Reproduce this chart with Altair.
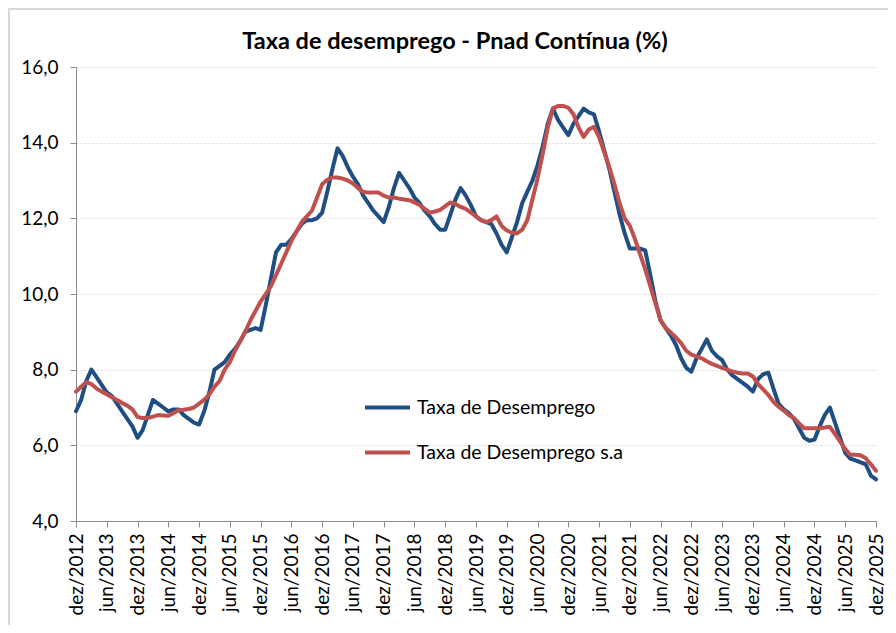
import json
import altair as alt
import pandas as pd

# Tick labels (every 6 months)
x_labels = ["dez/2012", "jun/2013", "dez/2013", "jun/2014", "dez/2014", "jun/2015",
            "dez/2015", "jun/2016", "dez/2016", "jun/2017", "dez/2017", "jun/2018",
            "dez/2018", "jun/2019", "dez/2019", "jun/2020", "dez/2020", "jun/2021",
            "dez/2021", "jun/2022", "dez/2022", "jun/2023", "dez/2023", "jun/2024",
            "dez/2024", "jun/2025", "dez/2025"]

series_names = ["Taxa de Desemprego", "Taxa de Desemprego s.a"]

# Monthly values, dez/2012 .. dez/2025
taxa = [6.9,
        7.2, 7.7, 8.0, 7.8, 7.6, 7.4, 7.3, 7.1, 6.9, 6.7, 6.5, 6.2,
        6.4, 6.8, 7.2, 7.1, 7.0, 6.9, 6.95, 6.95, 6.8, 6.7, 6.6, 6.55,
        6.9, 7.4, 8.0, 8.1, 8.2, 8.4, 8.55, 8.75, 9.0, 9.05, 9.1, 9.05,
        9.7, 10.4, 11.1, 11.3, 11.3, 11.45, 11.65, 11.85, 11.95, 11.95, 12.0, 12.15,
        12.7, 13.3, 13.85, 13.65, 13.35, 13.1, 12.9, 12.6, 12.4, 12.2, 12.05, 11.9,
        12.3, 12.8, 13.2, 13.0, 12.8, 12.55, 12.4, 12.2, 12.05, 11.85, 11.7, 11.7,
        12.1, 12.5, 12.8, 12.6, 12.35, 12.05, 11.95, 11.9, 11.85, 11.6, 11.3, 11.1,
        11.5, 11.9, 12.4, 12.7, 13.0, 13.4, 13.9, 14.5, 14.9, 14.6, 14.4, 14.2,
        14.5, 14.7, 14.9, 14.8, 14.75, 14.3, 13.8, 13.3, 12.7, 12.1, 11.6, 11.2,
        11.2, 11.2, 11.15, 10.5, 9.8, 9.3, 9.1, 8.9, 8.65, 8.3, 8.05, 7.95,
        8.3, 8.55, 8.8, 8.5, 8.35, 8.25, 8.0, 7.85, 7.75, 7.65, 7.55, 7.42,
        7.75, 7.88, 7.92, 7.5, 7.1, 6.95, 6.85, 6.7, 6.45, 6.2, 6.12, 6.15,
        6.5, 6.8, 7.0, 6.6, 6.2, 5.8, 5.65, 5.6, 5.55, 5.5, 5.2, 5.1]

taxa_sa = [7.42,
           7.55, 7.67, 7.62, 7.5, 7.42, 7.35, 7.27, 7.2, 7.12, 7.05, 6.95, 6.75,
           6.72, 6.72, 6.76, 6.8, 6.79, 6.78, 6.85, 6.93, 6.94, 6.96, 7.0, 7.1,
           7.2, 7.35, 7.55, 7.7, 8.0, 8.2, 8.5, 8.75, 9.0, 9.3, 9.55, 9.8,
           10.0, 10.2, 10.5, 10.8, 11.1, 11.4, 11.65, 11.9, 12.05, 12.2, 12.55, 12.9,
           13.02, 13.08, 13.08, 13.05, 13.0, 12.92, 12.8, 12.7, 12.68, 12.68, 12.68, 12.6,
           12.55, 12.55, 12.52, 12.5, 12.48, 12.42, 12.35, 12.25, 12.15, 12.18, 12.22, 12.32,
           12.42, 12.38, 12.3, 12.25, 12.15, 12.05, 11.95, 11.9, 11.95, 12.05, 11.8, 11.68,
           11.62, 11.6, 11.7, 11.95, 12.5, 13.05, 13.7, 14.4, 14.9, 14.97, 14.97, 14.92,
           14.75, 14.4, 14.15, 14.35, 14.42, 14.15, 13.75, 13.35, 12.9, 12.4, 12.0, 11.8,
           11.45, 11.05, 10.65, 10.2, 9.75, 9.3, 9.1, 8.98, 8.85, 8.7, 8.5, 8.4,
           8.35, 8.3, 8.22, 8.15, 8.1, 8.05, 8.0, 7.95, 7.92, 7.9, 7.9, 7.82,
           7.62, 7.48, 7.33, 7.15, 7.02, 6.92, 6.8, 6.72, 6.58, 6.45, 6.45, 6.45,
           6.45, 6.47, 6.49, 6.3, 6.1, 5.9, 5.75, 5.75, 5.74, 5.66, 5.5, 5.33]

n = len(taxa)
months = list(range(n))

df = pd.DataFrame({
    "m": months + months,
    "v": taxa + taxa_sa,
    "s": [series_names[0]] * n + [series_names[1]] * n,
})

FONT = "Lato"
label_expr = json.dumps(x_labels) + "[round(datum.value / 6)]"

color_scale = alt.Scale(domain=series_names, range=["#1F4E82", "#C0504D"])

x_enc = alt.X("m:Q", scale=alt.Scale(domain=[0, n - 1], nice=False, zero=False),
              axis=alt.Axis(values=list(range(0, n, 6)), labelExpr=label_expr,
                            labelAngle=-90, labelFontSize=19, labelColor="#000000",
                            labelFont=FONT, labelPadding=6, grid=False,
                            domainColor="#8c8c8c", tickColor="#8c8c8c", tickSize=6,
                            title=None, labelOverlap=False))
y_enc = alt.Y("v:Q", scale=alt.Scale(domain=[4, 16], nice=False, zero=False),
              axis=alt.Axis(values=[4, 6, 8, 10, 12, 14, 16],
                            labelExpr="replace(format(datum.value, '.1f'), '.', ',')",
                            labelFontSize=19, labelColor="#000000", labelFont=FONT,
                            labelPadding=12, grid=True, gridColor="#d9d9d9",
                            gridDash=[2, 2], domainColor="#8c8c8c", tickColor="#8c8c8c",
                            tickSize=6, title=None))

base = alt.Chart(df)

lines = base.mark_line(strokeWidth=4, strokeJoin="round", strokeCap="round").encode(
    x=x_enc,
    y=y_enc,
    color=alt.Color("s:N", scale=color_scale, sort=series_names,
                    legend=alt.Legend(title=None, orient="none", legendX=287, legendY=316,
                                      symbolType="stroke", symbolSize=2025,
                                      symbolStrokeWidth=4, labelFontSize=19.5,
                                      labelFont=FONT, labelColor="#000000",
                                      labelLimit=400,
                                      rowPadding=11, labelOffset=5)),
    order=alt.Order("m:Q"),
    detail="s:N",
)

# Light chart-area frame (top and left edges visible in the reference)
frame_top = alt.Chart().mark_rule(color="#d9d9d9", strokeWidth=2).encode(
    x=alt.value(-68), x2=alt.value(812), y=alt.value(-58))
frame_left = alt.Chart().mark_rule(color="#d9d9d9", strokeWidth=2).encode(
    x=alt.value(-67), y=alt.value(-59), y2=alt.value(558))

chart = alt.layer(frame_top, frame_left, lines).properties(
    width=800,
    height=454,
    title=alt.TitleParams("Taxa de desemprego - Pnad Contínua (%)", font=FONT,
                          fontSize=23.5, fontWeight="bold", color="#000000",
                          anchor="middle", dx=-21, offset=-46),
    autosize=alt.AutoSizeParams(type="none"),
    padding={"left": 68, "top": 59, "right": 12, "bottom": 104},
).configure_view(strokeWidth=0)

chart.save("out.html", embed_options={"renderer": "svg", "actions": False})
